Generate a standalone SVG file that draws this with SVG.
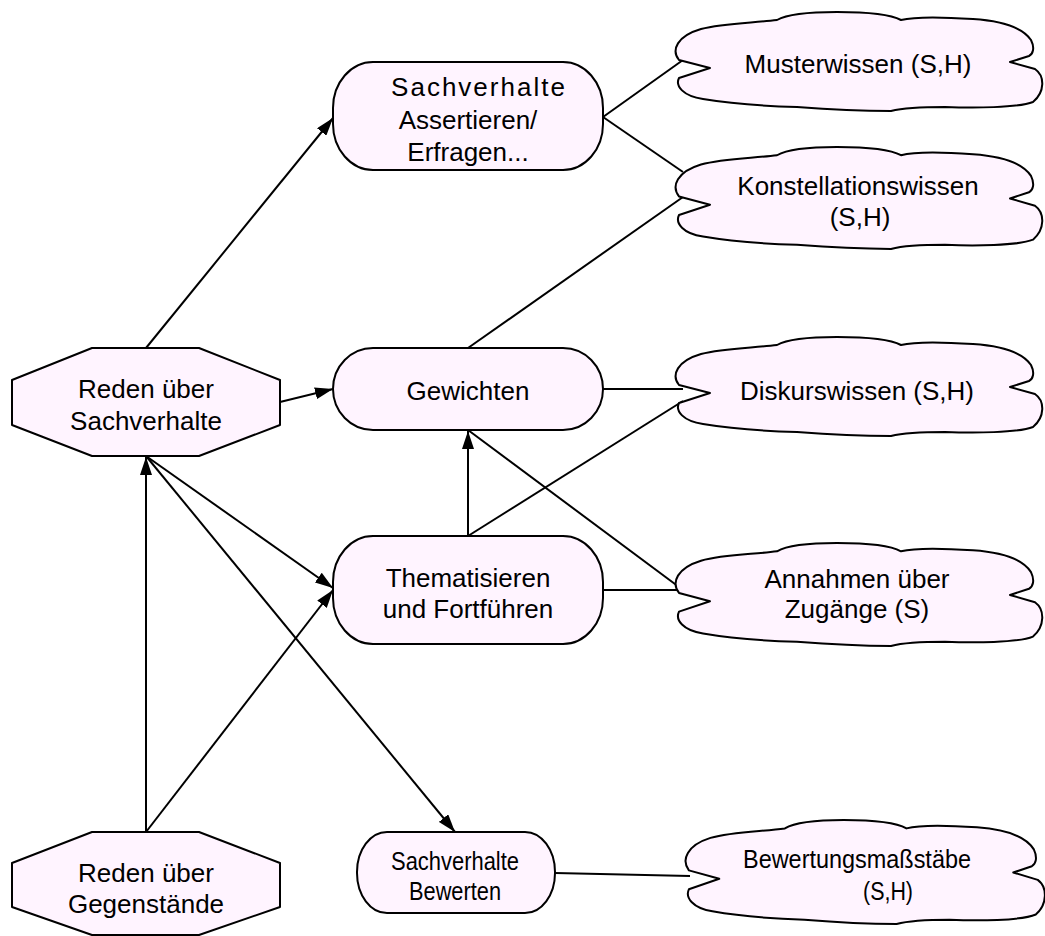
<svg xmlns="http://www.w3.org/2000/svg" xmlns:xlink="http://www.w3.org/1999/xlink" width="1045" height="936" viewBox="0 0 1045 936">
<style>
.shape{fill:#FFF4FF;stroke:#000;stroke-width:2;stroke-linejoin:round}
.conn line{stroke:#000;stroke-width:2}
text{font-family:"Liberation Sans",Arial,sans-serif;font-size:26px;fill:#000;text-anchor:middle}
.small{font-size:25px}
</style>
<defs>
<marker id="arr" markerUnits="userSpaceOnUse" markerWidth="18" markerHeight="12" refX="18" refY="6" orient="auto">
<path d="M0,0 L18,6 L0,12 Z" fill="#000"/>
</marker>
<path id="cloud" vector-effect="non-scaling-stroke" d="M37,56 L6,48 C-2,38 4,24 28,17 C50,11 80,11 104,8 C118,0 150,0 164,0 C190,0 215,1 228,8 C240,5 270,5 300,7 C330,9 350,16 358,28 C362,36 360,42 356,44 L337,50 L362,57 C372,64 372,80 360,90 C345,96 300,96 272,95 C250,95 230,96 218,99 C195,99 150,97 124,95 C90,94 60,92 30,87 C10,84 2,74 6,66 Z"/>
</defs>
<rect width="1045" height="936" fill="#fff"/>
<g id="connectors" class="conn">
<line x1="146" y1="348" x2="333" y2="118" marker-end="url(#arr)"/>
<line x1="280" y1="402" x2="333" y2="389" marker-end="url(#arr)"/>
<line x1="146" y1="456" x2="333" y2="588" marker-end="url(#arr)"/>
<line x1="146" y1="456" x2="455" y2="832" marker-end="url(#arr)"/>
<line x1="146" y1="832" x2="146" y2="457" marker-end="url(#arr)"/>
<line x1="146" y1="832" x2="333" y2="590" marker-end="url(#arr)"/>
<line x1="468" y1="536" x2="468" y2="431" marker-end="url(#arr)"/>
<line x1="603" y1="117" x2="683" y2="60"/>
<line x1="603" y1="117" x2="683" y2="172"/>
<line x1="468" y1="348" x2="683" y2="197"/>
<line x1="603" y1="389" x2="683" y2="389"/>
<line x1="468" y1="536" x2="683" y2="401"/>
<line x1="468" y1="430" x2="683" y2="590"/>
<line x1="603" y1="590" x2="683" y2="590"/>
<line x1="555" y1="873" x2="690" y2="876"/>
</g>
<g id="reden-sachverhalte">
<polygon class="shape" points="92,348 199,348 280,380 280,425 199,456 92,456 12,425 12,380"/>
<text x="146" y="398">Reden über</text>
<text x="146" y="430">Sachverhalte</text>
</g>
<g id="reden-gegenstaende">
<polygon class="shape" points="92,832 199,832 280,863 280,907 199,935 92,935 12,907 12,863"/>
<text x="146" y="882">Reden über</text>
<text x="146" y="913">Gegenstände</text>
</g>
<g id="assertieren">
<rect class="shape" x="333" y="62" width="270" height="108" rx="40" ry="46"/>
<text x="479" y="96" letter-spacing="2">Sachverhalte</text>
<text x="468" y="129">Assertieren/</text>
<text x="468" y="161">Erfragen...</text>
</g>
<g id="gewichten">
<rect class="shape" x="333" y="348" width="270" height="82" rx="40" ry="41"/>
<text x="468" y="400">Gewichten</text>
</g>
<g id="thematisieren">
<rect class="shape" x="333" y="536" width="270" height="108" rx="40" ry="46"/>
<text x="468" y="587">Thematisieren</text>
<text x="468" y="618">und Fortführen</text>
</g>
<g id="bewerten">
<rect class="shape" x="357" y="832" width="198" height="81" rx="30" ry="40"/>
<text class="small" x="455" y="870" textLength="128" lengthAdjust="spacingAndGlyphs">Sachverhalte</text>
<text class="small" x="455" y="900" textLength="92" lengthAdjust="spacingAndGlyphs">Bewerten</text>
</g>
<g id="musterwissen">
<use xlink:href="#cloud" class="shape" transform="translate(673,12)"/>
<text x="858" y="73">Musterwissen (S,H)</text>
</g>
<g id="konstellationswissen">
<use xlink:href="#cloud" class="shape" transform="translate(673,147) scale(1,1.03)"/>
<text x="858" y="195">Konstellationswissen</text>
<text x="860" y="226">(S,H)</text>
</g>
<g id="diskurswissen">
<use xlink:href="#cloud" class="shape" transform="translate(673,337)"/>
<text x="857" y="400">Diskurswissen (S,H)</text>
</g>
<g id="annahmen">
<use xlink:href="#cloud" class="shape" transform="translate(673,543) scale(1,1.04)"/>
<text x="857" y="588">Annahmen über</text>
<text x="857" y="618">Zugänge (S)</text>
</g>
<g id="bewertungsmassstaebe">
<use xlink:href="#cloud" class="shape" transform="translate(683,820) scale(0.98,1.05)"/>
<text class="small" x="857" y="868" textLength="228" lengthAdjust="spacingAndGlyphs">Bewertungsmaßstäbe</text>
<text class="small" x="888" y="900" textLength="50" lengthAdjust="spacingAndGlyphs">(S,H)</text>
</g>
</svg>
